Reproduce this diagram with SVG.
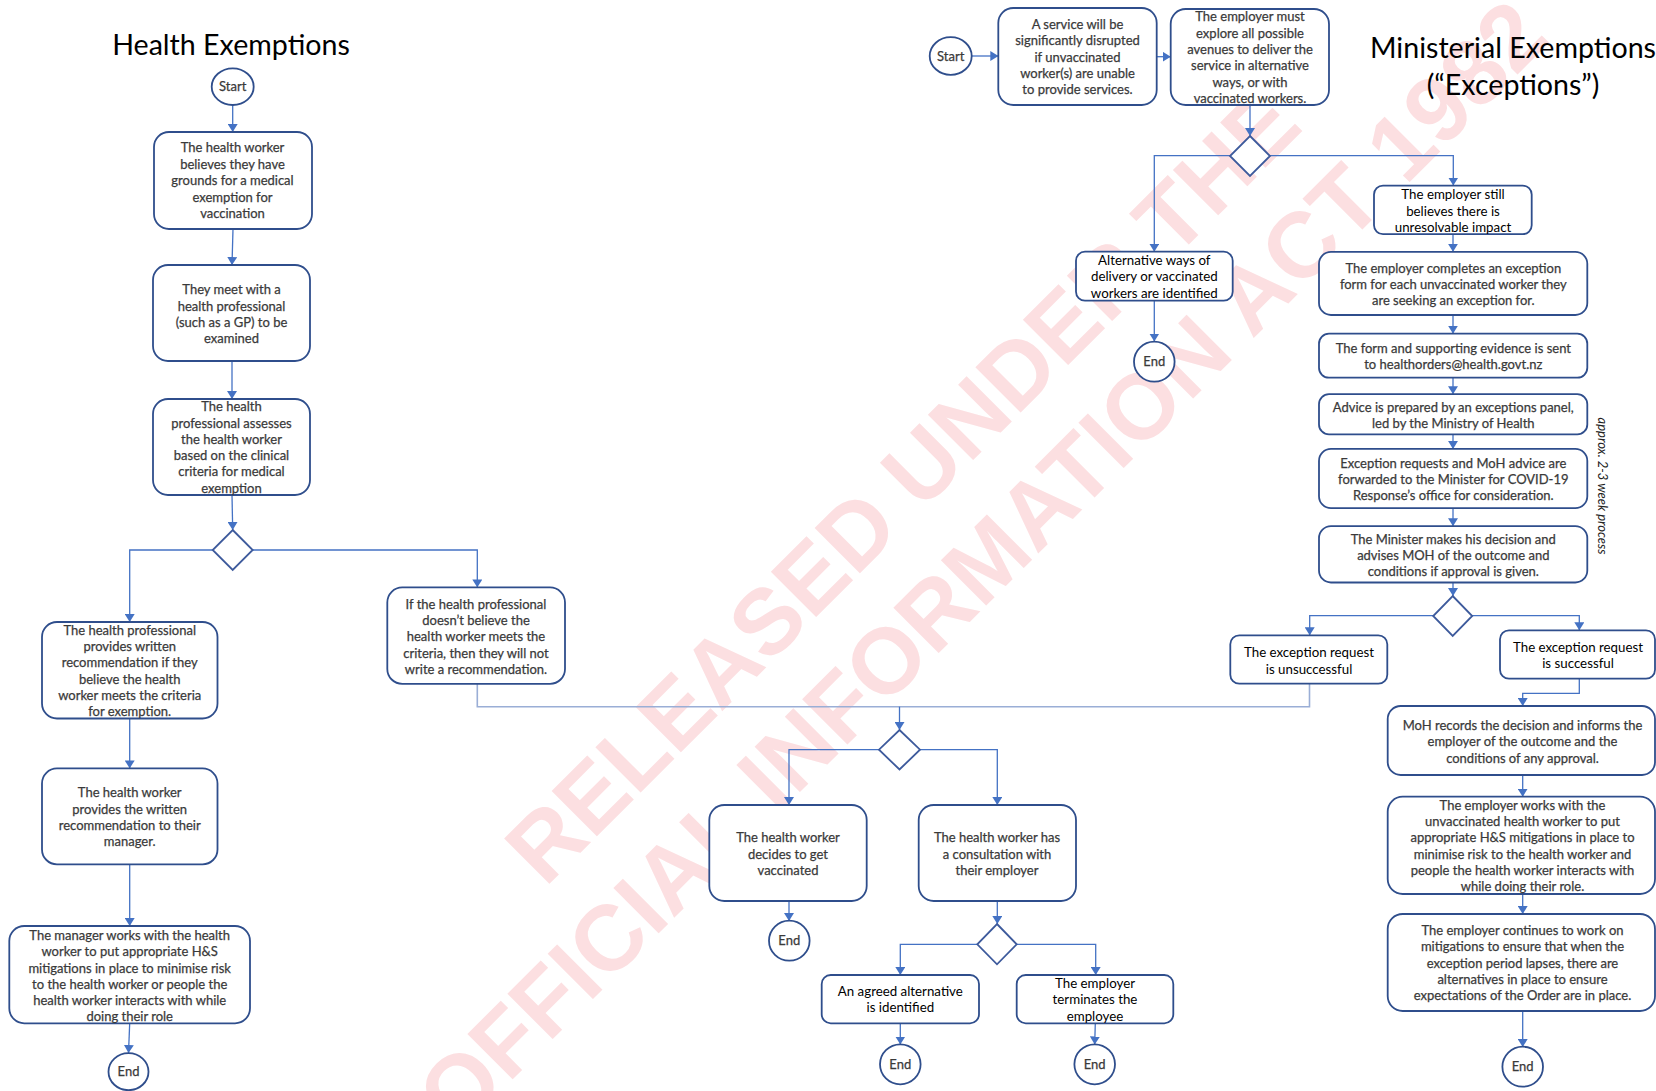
<svg xmlns="http://www.w3.org/2000/svg" width="1656" height="1091" viewBox="0 0 1656 1091">
  <style>
    .wm { font-family: "Liberation Sans", Arial, sans-serif; font-weight: bold; font-size: 93px; fill: #fcdfe1; text-anchor: middle; }
    .title { font-family: Lato, "Open Sans", sans-serif; font-size: 28.6px; fill: #000; text-anchor: middle; }
    .box { fill: #fff; stroke: #2f4e8c; stroke-width: 1.8; }
    .term { fill: #fff; stroke: #2f4e8c; stroke-width: 1.8; }
    .dia { fill: #fff; stroke: #3d5a9c; stroke-width: 1.8; }
    .t { font-family: Lato, "Open Sans", sans-serif; font-size: 13px; fill: #3a3a3a; stroke: #3a3a3a; stroke-width: 0.25; text-anchor: middle; }
    .tc { font-family: Lato, "Open Sans", sans-serif; font-size: 13.3px; fill: #000; text-anchor: middle; }
    .note { font-family: Lato, "Open Sans", sans-serif; font-size: 13px; font-style: italic; fill: #222; text-anchor: middle; }
    .conn { fill: none; stroke: #4472c4; stroke-width: 1.3; }
    .light { stroke: #9aaed6; stroke-width: 1.6; }
  </style>
  <defs>
    <marker id="arrow" viewBox="0 0 8 10" markerWidth="8" markerHeight="10" refX="8" refY="5" orient="auto" markerUnits="userSpaceOnUse">
      <path d="M0,0 L8,5 L0,10 z" fill="#4472c4"/>
    </marker>
  </defs>

  <rect x="0" y="0" width="1656" height="1091" fill="#fff"/>

  <!-- release watermark -->
  <g id="watermark">
    <text class="wm" transform="translate(925,508.3) rotate(-45)" x="0" y="0">RELEASED UNDER THE</text>
    <text class="wm" transform="translate(1004.4,587.5) rotate(-45)" x="0" y="0">OFFICIAL INFORMATION ACT 1982</text>
  </g>

  <!-- headings -->
  <text id="title-health" class="title" x="231" y="55">Health Exemptions</text>
  <g id="title-ministerial">
    <text class="title" x="1513" y="58">Ministerial Exemptions</text>
    <text class="title" x="1513" y="95">(“Exceptions”)</text>
  </g>
  <text id="duration-note" class="note" transform="translate(1601.5,486) rotate(90)" x="0" y="4">approx. 2-3 week process</text>

  <!-- connectors -->
  <g id="connectors">
    <path class="conn" marker-end="url(#arrow)" d="M232.7,105 L232.7,132"/>
    <path class="conn" marker-end="url(#arrow)" d="M233,229 L232,265"/>
    <path class="conn" marker-end="url(#arrow)" d="M232,361 L232,399"/>
    <path class="conn" marker-end="url(#arrow)" d="M232,495 L232.7,530"/>
    <path class="conn" marker-end="url(#arrow)" d="M212.7,550 L129.7,550 L129.7,622"/>
    <path class="conn" marker-end="url(#arrow)" d="M129.7,718.5 L129.7,768.4"/>
    <path class="conn" marker-end="url(#arrow)" d="M129.7,864.5 L129.7,926"/>
    <path class="conn" marker-end="url(#arrow)" d="M129.7,1023.3 L128.5,1053"/>
    <path class="conn" marker-end="url(#arrow)" d="M252.7,550 L477.3,550 L477.3,587.4"/>
    <path class="conn light" d="M477.3,684 L477.3,706.7 L1309.5,706.7 L1309.5,683.7"/>
    <path class="conn" marker-end="url(#arrow)" d="M899.5,706.7 L899.5,730"/>
    <path class="conn" marker-end="url(#arrow)" d="M879,749.7 L789,749.7 L789,805"/>
    <path class="conn" marker-end="url(#arrow)" d="M920,749.7 L997.3,749.7 L997.3,805"/>
    <path class="conn" marker-end="url(#arrow)" d="M789,901 L789,921"/>
    <path class="conn" marker-end="url(#arrow)" d="M997.3,901 L997.3,924"/>
    <path class="conn" marker-end="url(#arrow)" d="M977.3,944.3 L900.3,944.3 L900.3,975"/>
    <path class="conn" marker-end="url(#arrow)" d="M1016.7,944.3 L1095.7,944.3 L1095.7,975"/>
    <path class="conn" marker-end="url(#arrow)" d="M900.3,1023.3 L900.3,1044.5"/>
    <path class="conn" marker-end="url(#arrow)" d="M1095.3,1023.3 L1094.7,1044.5"/>
    <path class="conn" marker-end="url(#arrow)" d="M972,56 L998.3,56"/>
    <path class="conn" marker-end="url(#arrow)" d="M1156.7,56.7 L1170.7,56.7"/>
    <path class="conn" marker-end="url(#arrow)" d="M1250,105 L1250,136"/>
    <path class="conn" marker-end="url(#arrow)" d="M1230,155.7 L1154.3,155.7 L1154.3,251.7"/>
    <path class="conn" marker-end="url(#arrow)" d="M1270,155.7 L1453.3,155.7 L1453.3,185.6"/>
    <path class="conn" marker-end="url(#arrow)" d="M1154.3,300.7 L1154.3,341.5"/>
    <path class="conn" marker-end="url(#arrow)" d="M1453,234.2 L1453,251.8"/>
    <path class="conn" marker-end="url(#arrow)" d="M1453,315 L1453,333.7"/>
    <path class="conn" marker-end="url(#arrow)" d="M1453,377.7 L1453,394.2"/>
    <path class="conn" marker-end="url(#arrow)" d="M1453,434.4 L1453,448.9"/>
    <path class="conn" marker-end="url(#arrow)" d="M1453,508.2 L1453,526.2"/>
    <path class="conn" marker-end="url(#arrow)" d="M1453,582.5 L1453,596"/>
    <path class="conn" marker-end="url(#arrow)" d="M1433.3,615.7 L1309.7,615.7 L1309.7,635.3"/>
    <path class="conn" marker-end="url(#arrow)" d="M1472,615.7 L1579.3,615.7 L1579.3,630.3"/>
    <path class="conn" marker-end="url(#arrow)" d="M1579.3,678.7 L1579.3,693.3 L1522.7,693.3 L1522.7,706"/>
    <path class="conn" marker-end="url(#arrow)" d="M1522.7,775 L1522.7,796.7"/>
    <path class="conn" marker-end="url(#arrow)" d="M1522.7,894 L1522.7,914"/>
    <path class="conn" marker-end="url(#arrow)" d="M1522.7,1011 L1522.7,1047"/>
  </g>

  <!-- health exemptions flow -->
  <g id="start-health">
    <ellipse class="term" cx="232.7" cy="86.7" rx="21" ry="18.3"/>
    <text class="t" x="232.7" y="91.4">Start</text>
  </g>
  <g id="hw-believes">
    <rect class="box" x="154" y="132" width="158" height="97" rx="15"/>
    <text class="t" x="232.5" y="152.4">The health worker</text>
    <text class="t" x="232.5" y="169">believes they have</text>
    <text class="t" x="232.5" y="185.4">grounds for a medical</text>
    <text class="t" x="232.5" y="201.7">exemption for</text>
    <text class="t" x="232.5" y="218">vaccination</text>
  </g>
  <g id="hw-meets-gp">
    <rect class="box" x="153" y="265" width="157" height="96" rx="15"/>
    <text class="t" x="231.5" y="294">They meet with a</text>
    <text class="t" x="231.5" y="310.7">health professional</text>
    <text class="t" x="231.5" y="327">(such as a GP) to be</text>
    <text class="t" x="231.5" y="343.4">examined</text>
  </g>
  <g id="hp-assesses">
    <rect class="box" x="153" y="399" width="157" height="96" rx="15"/>
    <text class="t" x="231.5" y="411.4">The health</text>
    <text class="t" x="231.5" y="428">professional assesses</text>
    <text class="t" x="231.5" y="444">the health worker</text>
    <text class="t" x="231.5" y="460.4">based on the clinical</text>
    <text class="t" x="231.5" y="476.4">criteria for medical</text>
    <text class="t" x="231.5" y="493">exemption</text>
  </g>
  <g id="decision-assessment">
    <polygon class="dia" points="232.7,530 252.7,550 232.7,570 212.7,550"/>
  </g>
  <g id="hp-recommends">
    <rect class="box" x="42" y="622" width="175.5" height="96.5" rx="15"/>
    <text class="t" x="129.7" y="634.7">The health professional</text>
    <text class="t" x="129.7" y="651.1">provides written</text>
    <text class="t" x="129.7" y="667.1">recommendation if they</text>
    <text class="t" x="129.7" y="683.5">believe the health</text>
    <text class="t" x="129.7" y="699.9">worker meets the criteria</text>
    <text class="t" x="129.7" y="715.9">for exemption.</text>
  </g>
  <g id="hw-gives-manager">
    <rect class="box" x="42" y="768.4" width="175.5" height="96" rx="15"/>
    <text class="t" x="129.7" y="797.1">The health worker</text>
    <text class="t" x="129.7" y="813.5">provides the written</text>
    <text class="t" x="129.7" y="829.9">recommendation to their</text>
    <text class="t" x="129.7" y="846.3">manager.</text>
  </g>
  <g id="manager-mitigates">
    <rect class="box" x="9.3" y="926" width="240.7" height="97.3" rx="15"/>
    <text class="t" x="129.7" y="939.8">The manager works with the health</text>
    <text class="t" x="129.7" y="956.4">worker to put appropriate H&amp;S</text>
    <text class="t" x="129.7" y="972.7">mitigations in place to minimise risk</text>
    <text class="t" x="129.7" y="988.7">to the health worker or people the</text>
    <text class="t" x="129.7" y="1005.2">health worker interacts with while</text>
    <text class="t" x="129.7" y="1021.1">doing their role</text>
  </g>
  <g id="end-health">
    <ellipse class="term" cx="128.5" cy="1071.7" rx="20" ry="18.5"/>
    <text class="t" x="128.5" y="1076.4">End</text>
  </g>
  <g id="hp-declines">
    <rect class="box" x="387.3" y="587.4" width="177.7" height="96.5" rx="15"/>
    <text class="t" x="476" y="608.7">If the health professional</text>
    <text class="t" x="476" y="625">doesn’t believe the</text>
    <text class="t" x="476" y="641.4">health worker meets the</text>
    <text class="t" x="476" y="657.7">criteria, then they will not</text>
    <text class="t" x="476" y="673.7">write a recommendation.</text>
  </g>

  <!-- shared outcome flow -->
  <g id="decision-outcome">
    <polygon class="dia" points="899.5,730 920,749.7 899.5,769.5 879,749.7"/>
  </g>
  <g id="hw-vaccinated">
    <rect class="box" x="709.3" y="805" width="157.4" height="96" rx="15"/>
    <text class="t" x="788" y="842">The health worker</text>
    <text class="t" x="788" y="858.7">decides to get</text>
    <text class="t" x="788" y="875">vaccinated</text>
  </g>
  <g id="end-vaccinated">
    <ellipse class="term" cx="789.3" cy="940.7" rx="20.3" ry="20"/>
    <text class="t" x="789.3" y="945.4">End</text>
  </g>
  <g id="hw-consults">
    <rect class="box" x="918.7" y="805" width="157.3" height="96" rx="15"/>
    <text class="t" x="997" y="842">The health worker has</text>
    <text class="t" x="997" y="858.7">a consultation with</text>
    <text class="t" x="997" y="875">their employer</text>
  </g>
  <g id="decision-consult">
    <polygon class="dia" points="997,924 1016.7,944.3 997,964.3 977.3,944.3"/>
  </g>
  <g id="alt-agreed">
    <rect class="box" x="821.7" y="975" width="157.3" height="48.3" rx="9"/>
    <text class="tc" x="900.3" y="996">An agreed alternative</text>
    <text class="tc" x="900.3" y="1012">is identified</text>
  </g>
  <g id="end-agreed">
    <ellipse class="term" cx="900.3" cy="1064.3" rx="20.3" ry="20"/>
    <text class="t" x="900.3" y="1069">End</text>
  </g>
  <g id="employer-terminates">
    <rect class="box" x="1016.7" y="975" width="156.6" height="48.3" rx="9"/>
    <text class="tc" x="1095" y="988.3">The employer</text>
    <text class="tc" x="1095" y="1004.3">terminates the</text>
    <text class="tc" x="1095" y="1020.7">employee</text>
  </g>
  <g id="end-terminated">
    <ellipse class="term" cx="1094.7" cy="1064.3" rx="20.3" ry="20"/>
    <text class="t" x="1094.7" y="1069">End</text>
  </g>

  <!-- ministerial exemptions flow -->
  <g id="start-ministerial">
    <ellipse class="term" cx="950.7" cy="56" rx="21" ry="18.8"/>
    <text class="t" x="950.7" y="60.7">Start</text>
  </g>
  <g id="service-disrupted">
    <rect class="box" x="998.3" y="8" width="158.4" height="97" rx="15"/>
    <text class="t" x="1077.5" y="28.7">A service will be</text>
    <text class="t" x="1077.5" y="45.4">significantly disrupted</text>
    <text class="t" x="1077.5" y="61.7">if unvaccinated</text>
    <text class="t" x="1077.5" y="78">worker(s) are unable</text>
    <text class="t" x="1077.5" y="94">to provide services.</text>
  </g>
  <g id="explore-avenues">
    <rect class="box" x="1170.7" y="9" width="158.3" height="96" rx="15"/>
    <text class="t" x="1250" y="21.4">The employer must</text>
    <text class="t" x="1250" y="38">explore all possible</text>
    <text class="t" x="1250" y="54">avenues to deliver the</text>
    <text class="t" x="1250" y="70.4">service in alternative</text>
    <text class="t" x="1250" y="86.7">ways, or with</text>
    <text class="t" x="1250" y="103">vaccinated workers.</text>
  </g>
  <g id="decision-alternatives">
    <polygon class="dia" points="1250,136 1270,156 1250,176 1230,156"/>
  </g>
  <g id="alternatives-found">
    <rect class="box" x="1076" y="251.7" width="156.7" height="49" rx="9"/>
    <text class="tc" x="1154.3" y="265">Alternative ways of</text>
    <text class="tc" x="1154.3" y="281.3">delivery or vaccinated</text>
    <text class="tc" x="1154.3" y="297.7">workers are identified</text>
  </g>
  <g id="end-alternatives">
    <ellipse class="term" cx="1154.3" cy="361.7" rx="20.3" ry="20"/>
    <text class="t" x="1154.3" y="366.4">End</text>
  </g>
  <g id="impact-remains">
    <rect class="box" x="1374" y="185.6" width="157.7" height="48.6" rx="9"/>
    <text class="tc" x="1453" y="199.4">The employer still</text>
    <text class="tc" x="1453" y="215.5">believes there is</text>
    <text class="tc" x="1453" y="231.6">unresolvable impact</text>
  </g>
  <g id="exception-form">
    <rect class="box" x="1319" y="251.8" width="268.3" height="63.2" rx="12"/>
    <text class="t" x="1453.3" y="272.6">The employer completes an exception</text>
    <text class="t" x="1453.3" y="288.7">form for each unvaccinated worker they</text>
    <text class="t" x="1453.3" y="305.1">are seeking an exception for.</text>
  </g>
  <g id="evidence-sent">
    <rect class="box" x="1319" y="333.7" width="268.3" height="44" rx="10"/>
    <text class="t" x="1453.3" y="353">The form and supporting evidence is sent</text>
    <text class="t" x="1453.3" y="369">to healthorders@health.govt.nz</text>
  </g>
  <g id="panel-advice">
    <rect class="box" x="1319" y="394.2" width="268.3" height="40.2" rx="10"/>
    <text class="t" x="1453.3" y="411.5">Advice is prepared by an exceptions panel,</text>
    <text class="t" x="1453.3" y="428">led by the Ministry of Health</text>
  </g>
  <g id="forwarded-minister">
    <rect class="box" x="1319" y="448.9" width="268.3" height="59.3" rx="12"/>
    <text class="t" x="1453.3" y="467.8">Exception requests and MoH advice are</text>
    <text class="t" x="1453.3" y="483.8">forwarded to the Minister for COVID-19</text>
    <text class="t" x="1453.3" y="500.3">Response’s office for consideration.</text>
  </g>
  <g id="minister-decides">
    <rect class="box" x="1319" y="526.2" width="268.3" height="56.3" rx="12"/>
    <text class="t" x="1453.3" y="543.5">The Minister makes his decision and</text>
    <text class="t" x="1453.3" y="559.6">advises MOH of the outcome and</text>
    <text class="t" x="1453.3" y="576.1">conditions if approval is given.</text>
  </g>
  <g id="decision-minister">
    <polygon class="dia" points="1452.7,596 1472.2,616 1452.7,636 1433.2,616"/>
  </g>
  <g id="request-unsuccessful">
    <rect class="box" x="1230.3" y="635.3" width="157" height="48.4" rx="9"/>
    <text class="tc" x="1309" y="657.3">The exception request</text>
    <text class="tc" x="1309" y="673.7">is unsuccessful</text>
  </g>
  <g id="request-successful">
    <rect class="box" x="1500" y="630.3" width="155" height="48.4" rx="9"/>
    <text class="tc" x="1578" y="651.7">The exception request</text>
    <text class="tc" x="1578" y="668">is successful</text>
  </g>
  <g id="moh-records">
    <rect class="box" x="1387.7" y="706" width="267.3" height="69" rx="13"/>
    <text class="t" x="1522.5" y="729.7">MoH records the decision and informs the</text>
    <text class="t" x="1522.5" y="746.4">employer of the outcome and the</text>
    <text class="t" x="1522.5" y="762.7">conditions of any approval.</text>
  </g>
  <g id="employer-mitigates">
    <rect class="box" x="1387.7" y="796.7" width="267.3" height="97.3" rx="15"/>
    <text class="t" x="1522.5" y="810.4">The employer works with the</text>
    <text class="t" x="1522.5" y="825.7">unvaccinated health worker to put</text>
    <text class="t" x="1522.5" y="842.4">appropriate H&amp;S mitigations in place to</text>
    <text class="t" x="1522.5" y="858.7">minimise risk to the health worker and</text>
    <text class="t" x="1522.5" y="875">people the health worker interacts with</text>
    <text class="t" x="1522.5" y="890.7">while doing their role.</text>
  </g>
  <g id="employer-continues">
    <rect class="box" x="1387.7" y="914" width="267.3" height="97" rx="15"/>
    <text class="t" x="1522.5" y="935.4">The employer continues to work on</text>
    <text class="t" x="1522.5" y="951.4">mitigations to ensure that when the</text>
    <text class="t" x="1522.5" y="967.7">exception period lapses, there are</text>
    <text class="t" x="1522.5" y="984">alternatives in place to ensure</text>
    <text class="t" x="1522.5" y="1000">expectations of the Order are in place.</text>
  </g>
  <g id="end-ministerial">
    <ellipse class="term" cx="1522.7" cy="1066.7" rx="20.3" ry="20"/>
    <text class="t" x="1522.7" y="1071.4">End</text>
  </g>
</svg>
